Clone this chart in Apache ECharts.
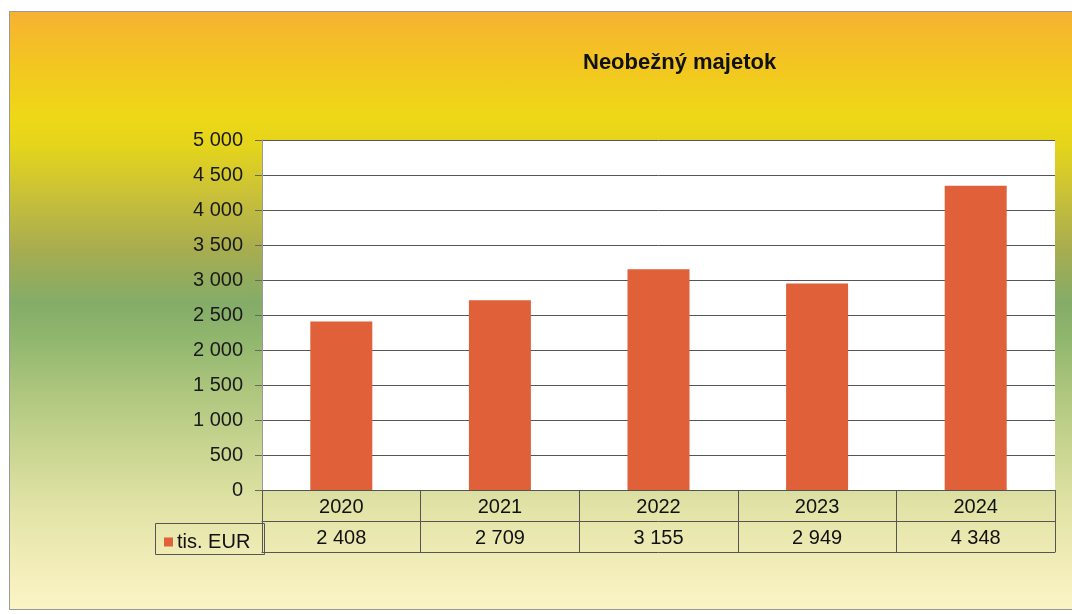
<!DOCTYPE html>
<html>
<head>
<meta charset="utf-8">
<script src="https://cdn.jsdelivr.net/npm/echarts@6/dist/echarts.min.js"></script>
<style>
  html, body { margin: 0; padding: 0; background: #fff; }
  #bg {
    position: absolute; left: 9px; top: 11px; width: 1070px; height: 597px;
    border: 1px solid #9a9a9a;
    background: linear-gradient(to bottom,
      #f6b232 0px, #f3c522 50px, #eed816 105px, #e4d41c 135px,
      #c8c03a 185px, #a9ad4e 235px, #84ac68 290px, #92b76e 330px,
      #aec67e 380px, #cad692 440px, #e3e4a8 500px, #f2edb8 555px, #fbf5c6 597px);
  }
  #chart { position: absolute; left: 0; top: 0; width: 1072px; height: 614px; }
</style>
</head>
<body>
<div id="bg"></div>
<div id="chart"></div>
<script>
  var years = ['2020', '2021', '2022', '2023', '2024'];
  var values = [2408, 2709, 3155, 2949, 4348];
  var seriesName = 'tis. EUR';
  var yMin = 0, yMax = 5000, yStep = 500;

  function fmt(v) {
    return String(v).replace(/\B(?=(\d{3})+(?!\d))/g, ' ');
  }

  var font = '"Liberation Sans", Arial, sans-serif';
  var lineColor = '#555';

  var chart = echarts.init(document.getElementById('chart'));
  chart.setOption({
    backgroundColor: 'transparent',
    animation: false,
    title: {
      text: 'Neobežný majetok',
      left: 578, top: 47,
      textStyle: { fontFamily: font, fontSize: 22, fontWeight: 'bold', color: '#111' }
    },
    legend: {
      left: 159, top: 527,
      icon: 'rect', itemWidth: 9, itemHeight: 9, itemGap: 4,
      data: [seriesName],
      textStyle: { fontFamily: font, fontSize: 20, color: '#111', padding: [0, 0, 0, -1] }
    },
    grid: {
      left: 262, right: 17, top: 140, bottom: 124,
      show: true, backgroundColor: '#fff', borderWidth: 0
    },
    xAxis: [
      {
        type: 'category', data: years, position: 'bottom',
        axisLine: { show: true, lineStyle: { color: lineColor, width: 1 } },
        axisTick: { show: true, length: 62, lineStyle: { color: lineColor } },
        axisLabel: { margin: 7, fontFamily: font, fontSize: 20, color: '#111' }
      },
      {
        type: 'category', data: values.map(fmt), position: 'bottom', offset: 31,
        axisLine: { show: true, lineStyle: { color: lineColor, width: 1 } },
        axisTick: { show: false },
        axisLabel: { margin: 7, fontFamily: font, fontSize: 20, color: '#111' }
      },
      {
        type: 'category', data: years, position: 'bottom', offset: 62,
        axisLine: { show: true, lineStyle: { color: lineColor, width: 1 } },
        axisTick: { show: false },
        axisLabel: { show: false }
      }
    ],
    yAxis: {
      type: 'value', min: yMin, max: yMax, interval: yStep,
      axisLine: { show: true, lineStyle: { color: '#999' } },
      axisTick: { show: true, length: 7, lineStyle: { color: '#666' } },
      axisLabel: {
        margin: 19, fontFamily: font, fontSize: 20, color: '#1a1a1a',
        formatter: function (v) { return fmt(v); }
      },
      splitLine: { show: true, lineStyle: { color: '#555', width: 1 } }
    },
    graphic: [
      {
        type: 'rect', left: 153, top: 521,
        shape: { width: 109, height: 31 },
        style: { fill: 'none', stroke: lineColor, lineWidth: 1 }
      }
    ],
    series: [
      {
        name: seriesName, type: 'bar', data: values, barWidth: 62,
        itemStyle: { color: '#e0603a' }
      }
    ]
  });
</script>
</body>
</html>
